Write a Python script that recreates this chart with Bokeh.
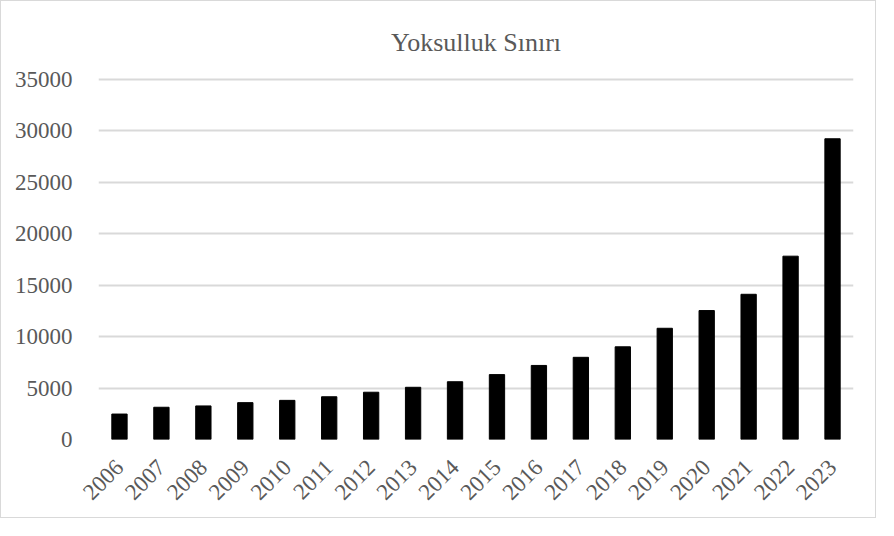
import math
from bokeh.plotting import figure
from bokeh.models import FactorRange, Range1d, SingleIntervalTicker
from bokeh.embed import file_html
from bokeh.resources import INLINE

years = ["2006", "2007", "2008", "2009", "2010", "2011", "2012", "2013", "2014",
         "2015", "2016", "2017", "2018", "2019", "2020", "2021", "2022", "2023"]
values = [2470, 3130, 3260, 3580, 3800, 4150, 4590, 5070, 5610,
          6300, 7190, 7980, 9000, 10800, 12520, 14100, 17800, 29200]
title_text = "Yoksulluk Sınırı"

FONT = "Liberation Serif"
GREY = "#595959"

p = figure(x_range=FactorRange(*years, range_padding=0), y_range=Range1d(0, 35150),
           width=876, height=518, output_backend="svg", toolbar_location=None,
           title=title_text, min_border_left=97, min_border_right=24,
           min_border_top=76, min_border_bottom=80)
p.styles = {"border": "1px solid #d9d9d9"}

p.vbar(x=years, top=values, width=0.365, color="black")

p.title.align = "center"
p.title.text_font = FONT
p.title.text_font_size = "26px"
p.title.text_font_style = "normal"
p.title.text_color = GREY
p.title.standoff = 42

p.outline_line_color = None
p.xgrid.grid_line_color = None
p.ygrid.grid_line_color = "#d9d9d9"
p.ygrid.grid_line_width = 2
p.yaxis.ticker = SingleIntervalTicker(interval=5000)

for ax in (p.xaxis, p.yaxis):
    ax.axis_line_color = None
    ax.major_tick_line_color = None
    ax.minor_tick_line_color = None
    ax.major_label_text_font = FONT
    ax.major_label_text_font_size = "23px"
    ax.major_label_text_color = GREY

p.yaxis.major_label_standoff = 20
p.xaxis.major_label_orientation = math.pi / 4
p.xaxis.major_label_standoff = 18

open("out.html", "w").write(file_html(p, INLINE))
